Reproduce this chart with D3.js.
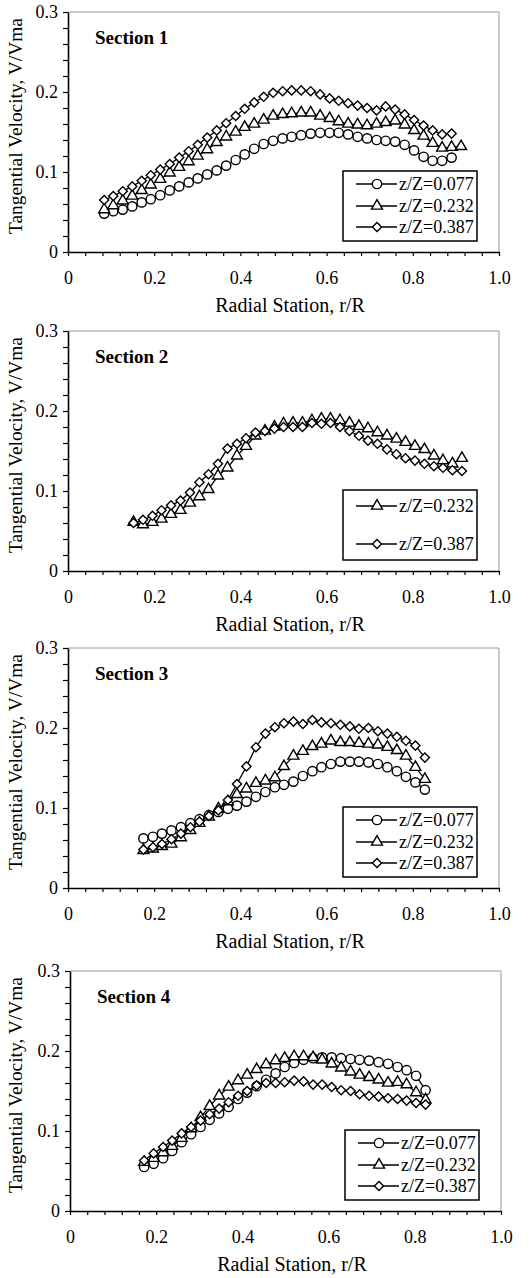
<!DOCTYPE html>
<html>
<head>
<meta charset="utf-8">
<script src="https://cdn.jsdelivr.net/npm/d3@7"></script>
<style>
  body { margin: 0; background: #fff; }
  svg { display: block; font-family: 'Liberation Serif', 'Times New Roman', serif; }
</style>
</head>
<body>
<svg id="chart" width="532" height="1278"></svg>
<script>
// tick labels and names
var xTickValues = [0, 0.2, 0.4, 0.6, 0.8, 1.0];
var xTickLabels = ['0', '0.2', '0.4', '0.6', '0.8', '1.0'];
var yTickValues = [0, 0.1, 0.2, 0.3];
var yTickLabels = ['0', '0.1', '0.2', '0.3'];
var sectionNames = ['Section 1', 'Section 2', 'Section 3', 'Section 4'];
var seriesNames = ['z/Z=0.077', 'z/Z=0.232', 'z/Z=0.387'];

// section 1
var s1R = [0.084, 0.105, 0.127, 0.149, 0.171, 0.192, 0.214, 0.236, 0.258, 0.280, 0.301, 0.323, 0.345, 0.367, 0.389, 0.410, 0.432, 0.454, 0.476, 0.498, 0.519, 0.541, 0.563, 0.585, 0.607, 0.628, 0.650, 0.672, 0.694, 0.716, 0.737, 0.759, 0.781, 0.803, 0.825, 0.846, 0.868, 0.890, 0.912];
var s1V077 = [0.048, 0.051, 0.053, 0.057, 0.062, 0.066, 0.071, 0.077, 0.082, 0.087, 0.092, 0.097, 0.102, 0.108, 0.115, 0.122, 0.129, 0.135, 0.139, 0.142, 0.144, 0.146, 0.148, 0.149, 0.149, 0.149, 0.147, 0.144, 0.142, 0.140, 0.139, 0.138, 0.134, 0.127, 0.119, 0.114, 0.114, 0.118];
var s1V232 = [0.053, 0.058, 0.064, 0.070, 0.077, 0.084, 0.091, 0.099, 0.106, 0.113, 0.120, 0.128, 0.137, 0.144, 0.150, 0.156, 0.160, 0.165, 0.170, 0.172, 0.173, 0.174, 0.174, 0.170, 0.167, 0.163, 0.160, 0.159, 0.158, 0.160, 0.162, 0.164, 0.159, 0.152, 0.145, 0.136, 0.130, 0.131, 0.132];
var s1V387 = [0.065, 0.070, 0.076, 0.082, 0.089, 0.096, 0.103, 0.110, 0.118, 0.126, 0.134, 0.143, 0.152, 0.161, 0.170, 0.179, 0.187, 0.194, 0.199, 0.201, 0.202, 0.202, 0.201, 0.197, 0.192, 0.189, 0.186, 0.183, 0.180, 0.177, 0.182, 0.178, 0.172, 0.165, 0.158, 0.152, 0.147, 0.148];

// section 2
var s2R = [0.152, 0.174, 0.196, 0.217, 0.239, 0.261, 0.283, 0.305, 0.326, 0.348, 0.370, 0.392, 0.413, 0.435, 0.457, 0.479, 0.500, 0.522, 0.544, 0.566, 0.588, 0.609, 0.631, 0.653, 0.675, 0.696, 0.718, 0.740, 0.762, 0.783, 0.805, 0.827, 0.849, 0.870, 0.892, 0.914];
var s2V232 = [0.061, 0.058, 0.061, 0.065, 0.071, 0.076, 0.085, 0.093, 0.102, 0.119, 0.129, 0.144, 0.156, 0.169, 0.175, 0.180, 0.184, 0.185, 0.185, 0.188, 0.190, 0.190, 0.188, 0.185, 0.181, 0.178, 0.173, 0.169, 0.165, 0.161, 0.156, 0.152, 0.144, 0.138, 0.134, 0.141];
var s2V387 = [0.060, 0.064, 0.069, 0.076, 0.082, 0.088, 0.098, 0.111, 0.121, 0.134, 0.153, 0.159, 0.166, 0.173, 0.175, 0.178, 0.180, 0.180, 0.180, 0.185, 0.184, 0.185, 0.180, 0.175, 0.169, 0.163, 0.159, 0.152, 0.146, 0.141, 0.138, 0.134, 0.131, 0.129, 0.126, 0.125];

// section 3
var s3R = [0.175, 0.197, 0.218, 0.240, 0.262, 0.284, 0.305, 0.327, 0.349, 0.371, 0.392, 0.414, 0.436, 0.458, 0.480, 0.501, 0.523, 0.545, 0.567, 0.588, 0.610, 0.632, 0.654, 0.675, 0.697, 0.719, 0.741, 0.763, 0.784, 0.806, 0.828];
var s3V077 = [0.062, 0.064, 0.068, 0.072, 0.076, 0.081, 0.086, 0.091, 0.095, 0.099, 0.103, 0.108, 0.114, 0.120, 0.126, 0.129, 0.133, 0.140, 0.146, 0.151, 0.155, 0.158, 0.158, 0.158, 0.157, 0.155, 0.151, 0.146, 0.139, 0.132, 0.123];
var s3V232 = [0.047, 0.049, 0.052, 0.055, 0.063, 0.072, 0.081, 0.089, 0.099, 0.108, 0.117, 0.124, 0.131, 0.134, 0.138, 0.152, 0.165, 0.171, 0.177, 0.180, 0.184, 0.182, 0.182, 0.181, 0.180, 0.179, 0.176, 0.172, 0.165, 0.151, 0.136];
var s3V387 = [0.048, 0.051, 0.055, 0.061, 0.068, 0.076, 0.083, 0.090, 0.097, 0.110, 0.130, 0.152, 0.176, 0.193, 0.201, 0.206, 0.208, 0.205, 0.210, 0.207, 0.206, 0.204, 0.202, 0.199, 0.200, 0.196, 0.193, 0.189, 0.184, 0.178, 0.163];

// section 4
var s4R = [0.172, 0.194, 0.216, 0.237, 0.259, 0.281, 0.303, 0.324, 0.346, 0.368, 0.390, 0.411, 0.433, 0.455, 0.477, 0.498, 0.520, 0.542, 0.564, 0.585, 0.607, 0.629, 0.651, 0.672, 0.694, 0.716, 0.738, 0.760, 0.781, 0.803, 0.825];
var s4V077 = [0.055, 0.059, 0.066, 0.075, 0.086, 0.096, 0.105, 0.114, 0.122, 0.130, 0.140, 0.148, 0.156, 0.164, 0.172, 0.180, 0.185, 0.189, 0.191, 0.192, 0.192, 0.191, 0.190, 0.189, 0.188, 0.186, 0.184, 0.180, 0.176, 0.169, 0.151];
var s4V232 = [0.061, 0.066, 0.073, 0.081, 0.091, 0.103, 0.117, 0.131, 0.144, 0.155, 0.163, 0.170, 0.177, 0.183, 0.188, 0.191, 0.193, 0.193, 0.192, 0.189, 0.184, 0.179, 0.174, 0.170, 0.167, 0.164, 0.160, 0.161, 0.158, 0.148, 0.139];
var s4V387 = [0.063, 0.072, 0.080, 0.088, 0.097, 0.105, 0.113, 0.121, 0.128, 0.136, 0.144, 0.150, 0.157, 0.160, 0.160, 0.161, 0.163, 0.162, 0.158, 0.158, 0.155, 0.151, 0.150, 0.146, 0.144, 0.143, 0.141, 0.140, 0.138, 0.135, 0.133];

// panel layout
var width = 431;
var height = 240;
var panelLeft = [68, 68, 68, 70];
var panelTop = [12, 331, 648, 971];

var svg = d3.select('#chart');

// marker shapes, one per series
var symbols = [
  d3.symbol().type(d3.symbolCircle).size(68),
  d3.symbol().type(d3.symbolTriangle).size(52),
  d3.symbol().type(d3.symbolSquare).size(42)
];
var symbolRotate = [0, 0, 45];

var sections = [
  { r: s1R, series: [{ k: 0, v: s1V077 }, { k: 1, v: s1V232 }, { k: 2, v: s1V387 }] },
  { r: s2R, series: [{ k: 1, v: s2V232 }, { k: 2, v: s2V387 }] },
  { r: s3R, series: [{ k: 0, v: s3V077 }, { k: 1, v: s3V232 }, { k: 2, v: s3V387 }] },
  { r: s4R, series: [{ k: 0, v: s4V077 }, { k: 1, v: s4V232 }, { k: 2, v: s4V387 }] }
];

sections.forEach(function(sec, i) { drawPanel(sec, i); });

function drawPanel(sec, i) {
  var g = svg.append('g')
    .attr('transform', 'translate(' + panelLeft[i] + ',' + panelTop[i] + ')');

  var x = d3.scaleLinear().domain([0, 1]).range([0, width]);
  var y = d3.scaleLinear().domain([0, 0.3]).range([height, 0]);

  // light frame on top and right
  g.append('path')
    .attr('d', 'M0,0H' + width + 'V' + height)
    .attr('fill', 'none')
    .attr('stroke', '#9a9a9a')
    .attr('stroke-width', 1);

  // minor ticks
  var xMinor = g.append('g')
    .attr('transform', 'translate(0,' + height + ')')
    .call(d3.axisBottom(x).tickValues(d3.range(0, 1.001, 0.04)).tickSize(4).tickSizeOuter(0).tickFormat(''));
  var yMinor = g.append('g')
    .call(d3.axisLeft(y).tickValues(d3.range(0, 0.301, 0.02)).tickSize(5).tickSizeOuter(0).tickFormat(''));
  [xMinor, yMinor].forEach(function(a) {
    a.select('.domain').attr('stroke-width', 1.6);
    a.selectAll('.tick line').attr('stroke-width', 1.2);
  });

  // tick labels
  var xLab = g.append('g')
    .attr('transform', 'translate(0,' + height + ')')
    .call(d3.axisBottom(x).tickValues(xTickValues).tickSize(0).tickPadding(19)
      .tickFormat(function(d, j) { return xTickLabels[j]; }));
  var yLab = g.append('g')
    .call(d3.axisLeft(y).tickValues(yTickValues).tickSize(0).tickPadding(10)
      .tickFormat(function(d, j) { return yTickLabels[j]; }));
  [xLab, yLab].forEach(function(a) {
    a.select('.domain').remove();
    a.attr('font-family', null).attr('font-size', 18);
    a.selectAll('text').attr('fill', '#000');
  });

  // axis titles
  g.append('text')
    .attr('x', 222)
    .attr('y', height + 60)
    .attr('text-anchor', 'middle')
    .attr('font-size', 20)
    .text('Radial Station, r/R');

  // y title is cut at the top, as in the scan
  g.append('clipPath')
    .attr('id', 'yclip' + i)
    .append('rect')
      .attr('x', -panelLeft[i])
      .attr('y', 6)
      .attr('width', panelLeft[i])
      .attr('height', height + 40);
  g.append('g')
    .attr('clip-path', 'url(#yclip' + i + ')')
    .append('text')
      .attr('transform', 'translate(' + (22 - panelLeft[i]) + ',' + (height - 18) + ') rotate(-90)')
      .attr('font-size', 19.4)
      .text('Tangential Velocity, V/Vmax');

  // section name
  g.append('text')
    .attr('x', 27)
    .attr('y', 32)
    .attr('font-size', 19)
    .attr('font-weight', 'bold')
    .text(sectionNames[i]);

  // series lines and markers
  var line = d3.line()
    .x(function(d) { return x(d.r); })
    .y(function(d) { return y(d.v); });

  sec.series.forEach(function(s) {
    var pts = s.v.map(function(v, j) { return { r: sec.r[j], v: v }; });
    g.append('path')
      .datum(pts)
      .attr('d', line)
      .attr('fill', 'none')
      .attr('stroke', '#000')
      .attr('stroke-width', 1.3);
    g.selectAll('path.m' + s.k)
      .data(pts)
      .enter()
      .append('path')
        .classed('m' + s.k, true)
        .attr('d', symbols[s.k])
        .attr('transform', function(d) {
          return 'translate(' + x(d.r) + ',' + y(d.v) + ') rotate(' + symbolRotate[s.k] + ')';
        })
        .attr('fill', '#fff')
        .attr('stroke', '#000')
        .attr('stroke-width', 1.4);
  });

  drawLegend(g, sec);
}

// legend box in lower right
function drawLegend(g, sec) {
  var n = sec.series.length;
  var boxTop = height - 81;
  var rows = n === 3 ? [13, 35, 56] : [16, 54];
  var legend = g.append('g');

  legend.append('rect')
    .attr('x', 275)
    .attr('y', boxTop)
    .attr('width', 134)
    .attr('height', 70)
    .attr('fill', '#fff')
    .attr('stroke', '#000')
    .attr('stroke-width', 1.5);

  sec.series.forEach(function(s, j) {
    var ly = boxTop + rows[j];
    legend.append('line')
      .attr('x1', 288)
      .attr('x2', 329)
      .attr('y1', ly)
      .attr('y2', ly)
      .attr('stroke', '#000')
      .attr('stroke-width', 1.3);
    legend.append('path')
      .attr('d', symbols[s.k])
      .attr('transform', 'translate(309,' + ly + ') rotate(' + symbolRotate[s.k] + ')')
      .attr('fill', '#fff')
      .attr('stroke', '#000')
      .attr('stroke-width', 1.4);
    legend.append('text')
      .attr('x', 331)
      .attr('y', ly)
      .attr('dy', '0.35em')
      .attr('font-size', 18)
      .text(seriesNames[s.k]);
  });
}
</script>
</body>
</html>
